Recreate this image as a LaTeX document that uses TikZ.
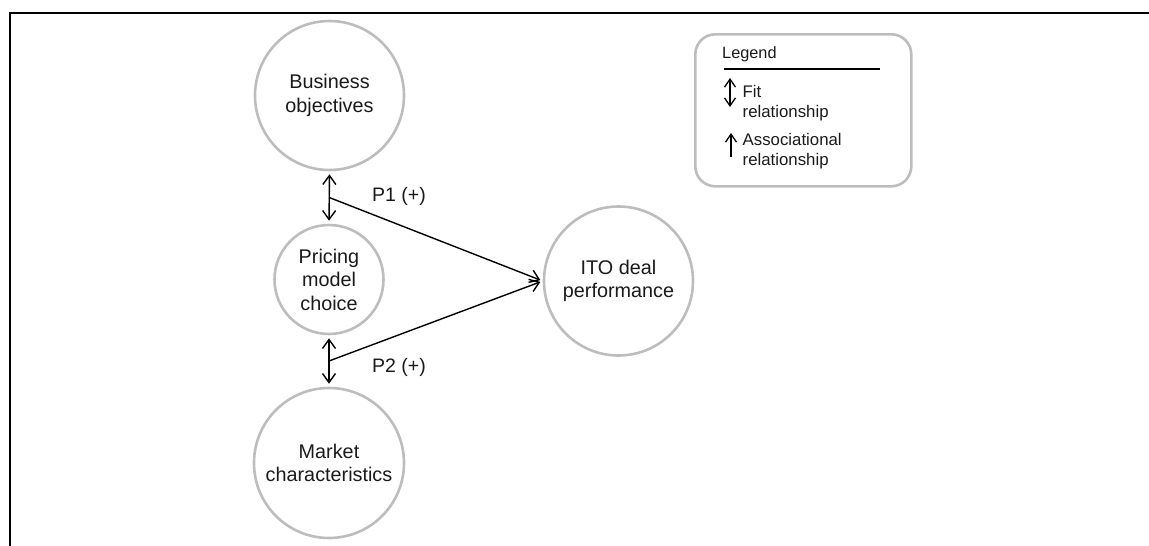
\documentclass[tikz,border=0pt]{standalone}
\usepackage{fontspec}
\setmainfont{Liberation Sans}
\usetikzlibrary{arrows.meta,calc}
\definecolor{circlegray}{HTML}{BDBDBD}
\definecolor{inkblack}{HTML}{1A1A1A}
\begin{document}
\begin{tikzpicture}[x=1pt,y=-1pt,
  concept/.style={circle,draw=circlegray,line width=2.6pt,inner sep=0pt,align=center,
    font=\fontsize{19.8}{23.5}\selectfont,text=inkblack},
  conn/.style={draw=black,line width=1.4pt},
  fitarrow/.style={conn,{Straight Barb[length=9pt,width=13pt]}-{Straight Barb[length=9pt,width=13pt]}},
  assocarrow/.style={conn,-{Straight Barb[length=9pt,width=13pt]}},
  lgfit/.style={conn,line width=1.3pt,{Straight Barb[length=8pt,width=11pt]}-{Straight Barb[length=8pt,width=11pt]}},
  lgassoc/.style={conn,line width=1.3pt,-{Straight Barb[length=8pt,width=11pt]}},
  plabel/.style={font=\fontsize{19.5}{23}\selectfont,text=inkblack,inner sep=0pt},
  lgtext/.style={font=\fontsize{16.8}{20.5}\selectfont,text=inkblack,inner sep=0pt,align=left,anchor=west}
]
\useasboundingbox (0,0) rectangle (1149,546);
% frame
\draw[line width=2pt] (10,546) -- (10,12.5) -- (1149,12.5);

% concept circles
\node[concept,minimum size=149pt] (bo) at (329.5,95.5) {Business\\objectives};
\node[concept,minimum size=109pt] (pm) at (329,279.5) {Pricing\\model\\choice};
\node[concept,minimum size=150pt] (mc) at (329,463) {Market\\characteristics};
\node[concept,minimum size=149pt] (ito) at (618.5,281) {ITO deal\\performance};

% fit relationships
\coordinate (j1) at ($(bo.south)!0.5!(pm.north)$);
\coordinate (j2) at ($(pm.south)!0.5!(mc.north)$);
\draw[fitarrow,shorten <=3pt,shorten >=3pt] (bo.south) -- (pm.north);
\draw[fitarrow,shorten <=3pt,shorten >=3pt] (pm.south) -- (mc.north);

% associational relationships
\draw[assocarrow,shorten >=2.5pt] (j1) -- (ito.west);
\draw[assocarrow,shorten >=2.5pt] (j2) -- (ito.west);

\node[plabel] (p1) at (399,196) {P1 (+)};
\node[plabel] (p2) at (399,367) {P2 (+)};

% legend
\node[draw=circlegray,line width=2.6pt,rounded corners=20pt,minimum width=216pt,minimum height=152pt,anchor=north west] (legend) at (694,33) {};
\node[font=\fontsize{16.3}{19}\selectfont,text=inkblack,inner sep=0pt,anchor=base west] (lgtitle) at (722,58) {Legend};
\coordinate (rl) at (724,69);
\coordinate (rr) at (880,69);
\draw[line width=1.2pt] (rl) -- (rr);
\coordinate (f1) at (730,78);
\coordinate (f2) at (730,107);
\draw[lgfit] (f1) -- (f2);
\node[lgtext] (fittext) at (742.5,103) {Fit\\relationship};
\coordinate (a1) at (731,157);
\coordinate (a2) at (731,133);
\draw[lgassoc] (a1) -- (a2);
\node[lgtext] (astext) at (742.5,151) {Associational\\relationship};
\end{tikzpicture}
\end{document}
